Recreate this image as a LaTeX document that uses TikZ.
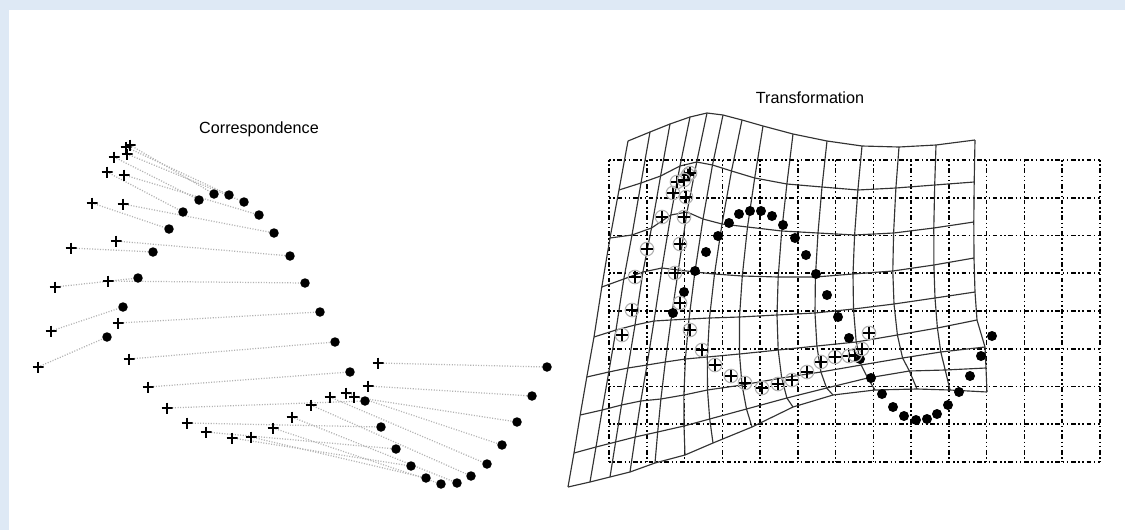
\documentclass[tikz,border=0pt]{standalone}
\usepackage{fontspec}
\setmainfont{Liberation Sans}
\definecolor{bgblue}{RGB}{222,233,245}
\newcommand\defwrow[2]{\foreach \x/\y [count=\i from 0] in {#2} {\coordinate (w-\i-#1) at (\x,\y);}}
\begin{document}
\begin{tikzpicture}[x=0.2mm,y=-0.2mm,
  plusmk/.style={inner sep=0pt, minimum size=2.2mm, path picture={\draw[black, line width=0.85pt] (path picture bounding box.north)--(path picture bounding box.south) (path picture bounding box.west)--(path picture bounding box.east);}},
  dotmk/.style={circle, fill=black, inner sep=0pt, minimum size=1.9mm},
  cplus/.style={circle, draw=gray!60, line width=0.65pt, inner sep=0pt, minimum size=2.7mm, path picture={\draw[black, line width=0.7pt] (path picture bounding box.north)--(path picture bounding box.south) (path picture bounding box.west)--(path picture bounding box.east);}},
  corr/.style={draw=gray!60, line width=0.7pt, dash pattern=on 0.6pt off 0.9pt},
  regrid/.style={line width=0.9pt, dash pattern=on 0.9pt off 1.5pt on 0.9pt off 1.5pt on 2.6pt off 1.5pt},
  wgrid/.style={draw=black!80, line width=0.65pt, line join=round},
  title/.style={font=\fontsize{9.2}{11}\selectfont, inner sep=0pt}]
\fill[bgblue] (0,0) rectangle (1125,530);
\fill[white] (9,10) rectangle (1125,530);
\useasboundingbox (0,0) rectangle (1125,530);

\node[title] (t1) at (259,129) {Correspondence};
\node[title] (t2) at (810,98) {Transformation};

% ---------- left panel: correspondence ----------
\foreach \n/\px/\py/\dx/\dy in {
 1/38/367/107/337, 2/51/331/123/307, 3/55/287/138/278, 4/71/248/153/252,
 5/92/203/169/229, 6/107/172/183/212, 7/114/157/199/200, 8/130/145/214/194,
 9/126/147/229/195, 10/127/154/244/202, 11/124/175/259/215, 12/123/204/274/233,
 13/116/241/290/256, 14/108/281/305/283, 15/118/323/320/312, 16/129/359/335/342,
 17/148/387/350/372, 18/167/408/365/401, 19/187/423/381/427, 20/206/432/396/449,
 21/232/438/411/466, 22/251/437/426/478, 23/273/428/441/484, 24/292/417/457/483,
 25/311/405/471/476, 26/330/397/487/464, 27/346/393/502/445, 28/354/397/517/422,
 29/368/386/532/396, 30/378/363/547/367}{
  \coordinate (p\n) at (\px,\py);
  \coordinate (d\n) at (\dx,\dy);
}
\foreach \n in {1,...,30}{\draw[corr] (p\n) -- (d\n);}
\foreach \n in {1,...,30}{\node[dotmk] (dm\n) at (d\n) {};}
\foreach \n in {1,...,30}{\node[plusmk] (pm\n) at (p\n) {};}

% ---------- right panel: transformation ----------
\foreach \k in {0,...,13}{\draw[regrid] (609+37.77*\k,160) -- (609+37.77*\k,462);}
\foreach \k in {0,...,8}{\draw[regrid] (609,160+37.75*\k) -- (1100,160+37.75*\k);}

\defwrow{0}{628/141,650/132,670/124,690/117,707/113,723/115,742/120,763/126,793/134,827/141,862/146,899/147,936/145,975/140}
\defwrow{1}{619/190,641/183,660.6/176,680/166,696.7/162,712.5/165,731.5/171,754.7/178,786.9/184,822/187,857.9/190,895.9/188,934.7/185,974.2/182}
\defwrow{2}{610/238,632/235,651.5/228,670.8/215,687/212,703/219,722/224,747.5/227,781.7/231,818/233,854.6/235,893.6/233,933.8/228,973.8/222}
\defwrow{3}{601.8/287,623.8/279,642.9/272,662/268,678.3/270,694.9/272,714.5/274,742.3/276,778.2/277,815.4/277,853/274,892.8/271,933.9/265,974/258}
\defwrow{4}{594/337,616/330,635/325,654/321,671/320,689/319,709.5/318,739.5/317,777/315,815/313,853.5/309,894/304,935/298,975/292}
\defwrow{5}{586.8/377,608.8/372,627.9/368,647/365,665.3/362,685.4/359,707.3/357,739.5/354,778.2/350,816.9/346,856.2/342,897.4/335,937.4/328,977/320}
\defwrow{6}{580.2/415,602.2/410,621.5/405,640.8/401,660.9/399,683.9/395,707.5/390,742/385,781.7/378,820.9/372,861.2/365,902.6/358,940.8/352,985/347}
\defwrow{7}{574/453,596/447,615.6/442,635.2/437,657.7/432,684/426,709.7/419,746.5/409,786.9/398,826.6/388,867.7/378,909.4/371,945.2/370,986/368}
\defwrow{8}{568/487,590/482,610/477,630/472,655/463,685/455,713/443,752/427,793/407,833/395,875/390,917/389,950/390,987/392}
\foreach \j in {0,...,8}{\draw[wgrid] (w-0-\j) \foreach \i in {1,...,13}{ -- (w-\i-\j)};}
\foreach \i in {0,...,13}{\draw[wgrid] (w-\i-0) \foreach \j in {1,...,8}{ -- (w-\i-\j)};}

\foreach \n/\x/\y in {1/673/313,2/684/292,3/695/271,4/706/252,5/718/236,6/729/223,
 7/739/214,8/750/211,9/761/211,10/772/216,11/783/225,12/795/238,13/806/255,14/816/274,
 15/827/295,16/838/317,17/849/338,18/860/359,19/871/378,20/882/394,21/893/407,22/904/416,
 23/916/420,24/927/419,25/937/414,26/948/405,27/959/392,28/970/376,29/981/356,30/992/336}{
  \node[dotmk, minimum size=2mm] (rd\n) at (\x,\y) {};
}
\foreach \n/\x/\y in {1/622/335,2/632/310,3/635/277,4/647/249,5/662/217,6/673/193,
 7/677/182,8/688/175,9/690/173,10/684/180,11/686/197,12/684/217,13/680/244,14/675/273,
 15/680/303,16/690/330,17/702/350,18/715/365,19/731/376,20/745/383,21/762/388,22/778/384,
 23/792/380,24/807/372,25/821/362,26/835/357,27/849/356,28/855/355,29/862/349,30/869/333}{
  \node[cplus] (rp\n) at (\x,\y) {};
}
\end{tikzpicture}
\end{document}
